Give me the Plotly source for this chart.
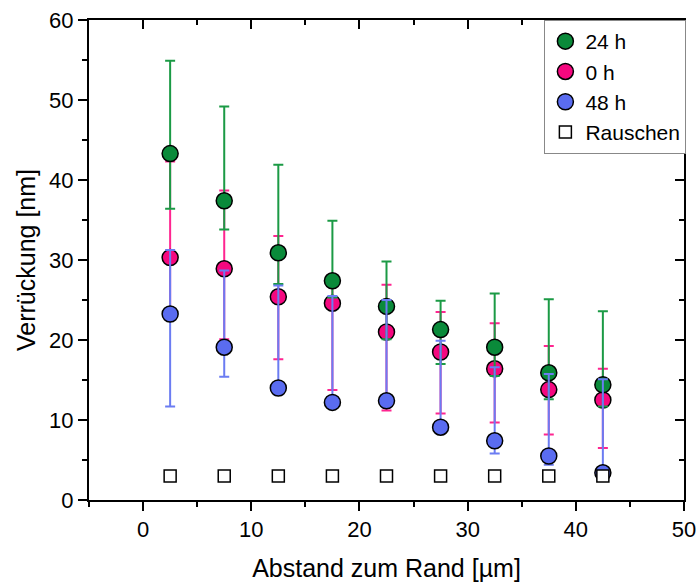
import plotly.graph_objects as go

# Distance from the edge (µm)
distance = [2.5, 7.5, 12.5, 17.5, 22.5, 27.5, 32.5, 37.5, 42.5]

# 24 h: mean displacement with upper / lower error limits (nm)
h24_mean = [43.3, 37.4, 30.9, 27.4, 24.2, 21.3, 19.1, 15.9, 14.4]
h24_upper = [54.9, 49.2, 41.9, 34.9, 29.8, 24.9, 25.8, 25.1, 23.6]
h24_lower = [36.4, 33.8, 27.0, 25.3, 20.1, 17.0, 15.5, 12.6, 11.7]

# 0 h
h0_mean = [30.3, 28.9, 25.4, 24.6, 21.0, 18.5, 16.4, 13.8, 12.5]
h0_upper = [42.3, 38.7, 33.0, 27.9, 26.9, 23.5, 22.1, 19.25, 16.4]
h0_lower = [22.9, 20.1, 17.6, 13.75, 11.2, 10.8, 9.7, 8.2, 6.5]

# 48 h
h48_mean = [23.25, 19.1, 14.0, 12.2, 12.4, 9.1, 7.4, 5.5, 3.4]
h48_upper = [31.25, 28.7, 26.8, 25.5, 25.0, 19.9, 16.6, 15.75, 15.1]
h48_lower = [11.7, 15.4, 13.2, 11.5, 11.6, 8.3, 5.8, 4.4, 2.6]

# Noise level
noise = [3.0, 3.0, 3.0, 3.0, 3.0, 3.0, 3.0, 3.0, 3.0]

FONT = "Arial, Liberation Sans, sans-serif"


def series(name, mean, upper, lower, fill, bar, rank):
    plus = [u - m for u, m in zip(upper, mean)]
    minus = [m - l for m, l in zip(mean, lower)]
    return go.Scatter(
        x=distance, y=mean, name=name, mode="markers", legendrank=rank,
        marker=dict(symbol="circle", size=16, color=fill,
                    line=dict(color="black", width=1.5)),
        error_y=dict(type="data", symmetric=False, array=plus,
                     arrayminus=minus, color=bar, thickness=2, width=5),
    )


fig = go.Figure()
fig.add_trace(series("0 h", h0_mean, h0_upper, h0_lower, "#F5087F", "#FF2590", 2))
fig.add_trace(series("24 h", h24_mean, h24_upper, h24_lower, "#0A8A3A", "#1B9A45", 1))
fig.add_trace(series("48 h", h48_mean, h48_upper, h48_lower, "#5A6CF0", "#6B7CF2", 3))
fig.add_trace(go.Scatter(
    x=distance, y=noise, name="Rauschen", mode="markers", legendrank=4,
    marker=dict(symbol="square", size=12, color="white",
                line=dict(color="black", width=1.5)),
))

axis_common = dict(
    showgrid=False, zeroline=False, linecolor="black", linewidth=2,
    tickcolor="black", tickwidth=1.5, ticklen=9, automargin=False,
    tickfont=dict(family=FONT, size=22, color="black"),
)
minor_out = dict(dtick=5, tick0=0, ticks="outside", ticklen=5,
                 tickwidth=1.5, tickcolor="black")
minor_in = dict(dtick=5, tick0=0, ticks="inside", ticklen=5,
                tickwidth=1.5, tickcolor="black")

fig.update_layout(
    width=700, height=582,
    margin=dict(l=89, r=16, t=20, b=82),
    paper_bgcolor="white", plot_bgcolor="white",
    font=dict(family=FONT, color="black"),
    showlegend=True,
    legend=dict(
        x=1.004, xanchor="right", y=1, yanchor="top",
        bgcolor="white", bordercolor="#888888", borderwidth=1,
        font=dict(family=FONT, size=21, color="black"),
        tracegroupgap=0,
    ),
    xaxis=dict(
        **axis_common, range=[-5, 50], dtick=10, tick0=0, ticks="outside",
        mirror=True, showline=True, minor=minor_out,
        title=dict(text="Abstand zum Rand [µm]", standoff=20,
                   font=dict(family=FONT, size=25, color="black")),
    ),
    yaxis=dict(
        **axis_common, range=[0, 60], dtick=10, tick0=0, ticks="outside",
        mirror=True, showline=True, minor=minor_out,
        title=dict(text="Verrückung [nm]", standoff=6,
                   font=dict(family=FONT, size=25, color="black")),
    ),
    # inward ticks along the top and right frame
    xaxis2=dict(
        **axis_common, range=[-5, 50], dtick=10, tick0=0, ticks="inside",
        overlaying="x", side="top", anchor="y", showline=False,
        showticklabels=False, minor=minor_in,
    ),
    yaxis2=dict(
        **axis_common, range=[0, 60], dtick=10, tick0=0, ticks="inside",
        overlaying="y", side="right", anchor="x", showline=False,
        showticklabels=False, minor=minor_in,
    ),
)

# invisible trace so the frame axes are drawn
fig.add_trace(go.Scatter(x=[None], y=[None], xaxis="x2", yaxis="y2",
                         showlegend=False, hoverinfo="skip"))

fig.write_html("out.html")
